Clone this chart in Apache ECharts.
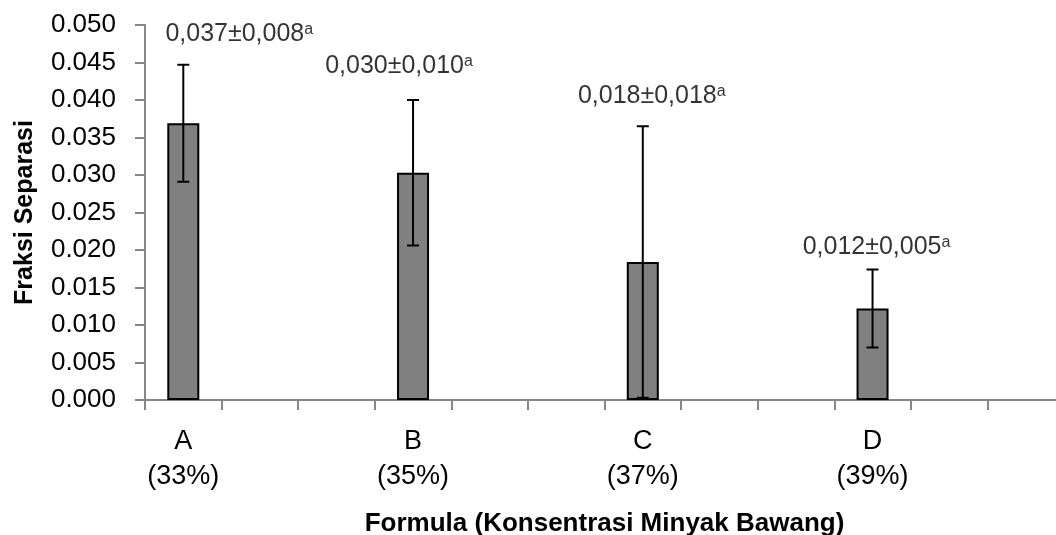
<!DOCTYPE html>
<html>
<head>
<meta charset="utf-8">
<script src="https://cdn.jsdelivr.net/npm/echarts@6/dist/echarts.min.js"></script>
<style>
html,body{margin:0;padding:0;background:#fff;}
#chart{width:1056px;height:535px;}
</style>
</head>
<body>
<div id="chart"></div>
<script>
// ---- data ----
var formulas = ['A', 'B', 'C', 'D'];
var concentrations = ['(33%)', '(35%)', '(37%)', '(39%)'];
var means = [0.0369, 0.0303, 0.0184, 0.0122];
var errors = [0.0078, 0.0097, 0.0181, 0.0052];
var labelTexts = ['0,037±0,008', '0,030±0,010', '0,018±0,018', '0,012±0,005'];
var labelSup = ['a', 'a', 'a', 'a'];
var slotIndex = [0, 3, 6, 9];
var slotCount = 12;

// ---- style-only offsets for free-placed labels ----
var labelOffsets = [[56, -31], [-14, -34], [9, -30], [4, -22]];

var FONT = "'Arial Narrow', 'Liberation Sans Narrow', 'Liberation Sans', Arial, sans-serif";

var categories = [];
for (var i = 0; i < slotCount; i++) categories.push('');
formulas.forEach(function (f, k) { categories[slotIndex[k]] = f + '\n' + concentrations[k]; });

var barData = [];
for (var i = 0; i < slotCount; i++) barData.push(null);
means.forEach(function (m, k) { barData[slotIndex[k]] = m; });

var errData = means.map(function (m, k) { return [slotIndex[k], m - errors[k], m + errors[k]]; });

var labelData = means.map(function (m, k) {
  return {
    value: [slotIndex[k], m + errors[k]],
    label: {
      offset: labelOffsets[k],
      formatter: '{v|' + labelTexts[k] + '}{s|' + labelSup[k] + '}'
    }
  };
});

var chart = echarts.init(document.getElementById('chart'), null, {renderer: 'canvas'});
chart.setOption({
  animation: false,
  backgroundColor: '#fff',
  grid: {left: 145, top: 25, width: 919, height: 375, containLabel: false, outerBoundsMode: 'none'},
  xAxis: {
    type: 'category',
    data: categories,
    name: 'Formula (Konsentrasi Minyak Bawang)',
    nameLocation: 'middle',
    nameGap: 111,
    nameTextStyle: {fontFamily: FONT, fontWeight: 'bold', fontSize: 26, color: '#000'},
    axisLine: {lineStyle: {color: '#868686', width: 2}},
    axisTick: {show: true, interval: 0, length: 10, lineStyle: {color: '#868686', width: 2}},
    axisLabel: {interval: 0, fontFamily: FONT, fontSize: 27, color: '#000', lineHeight: 35, margin: 24},
    splitLine: {show: false}
  },
  yAxis: {
    type: 'value',
    min: 0,
    max: 0.05,
    interval: 0.005,
    name: 'Fraksi Separasi',
    nameLocation: 'middle',
    nameGap: 107,
    nameTextStyle: {fontFamily: FONT, fontWeight: 'bold', fontSize: 25, color: '#000'},
    axisLine: {show: true, lineStyle: {color: '#868686', width: 2}},
    axisTick: {show: true, length: 10, lineStyle: {color: '#868686', width: 2}},
    axisLabel: {
      fontFamily: FONT, fontSize: 26, color: '#000', margin: 29,
      formatter: function (v) { return v.toFixed(3); }
    },
    splitLine: {show: false}
  },
  series: [
    {
      type: 'bar',
      data: barData,
      barWidth: 32,
      itemStyle: {color: '#808080', borderColor: '#000', borderWidth: 2},
      z: 2
    },
    {
      type: 'custom',
      data: errData,
      z: 5,
      renderItem: function (params, api) {
        var x = api.value(0);
        var lo = api.coord([x, api.value(1)]);
        var hi = api.coord([x, api.value(2)]);
        var cap = 6;
        var st = {stroke: '#000', lineWidth: 2};
        return {
          type: 'group',
          children: [
            {type: 'line', shape: {x1: lo[0], y1: lo[1], x2: hi[0], y2: hi[1]}, style: st},
            {type: 'line', shape: {x1: hi[0] - cap, y1: hi[1], x2: hi[0] + cap, y2: hi[1]}, style: st},
            {type: 'line', shape: {x1: lo[0] - cap, y1: lo[1], x2: lo[0] + cap, y2: lo[1]}, style: st}
          ]
        };
      }
    },
    {
      type: 'scatter',
      data: labelData,
      symbolSize: 0,
      z: 6,
      label: {
        show: true,
        position: 'inside',
        color: '#000',
        rich: {
          v: {fontFamily: FONT, fontSize: 25, color: '#000'},
          s: {fontFamily: FONT, fontSize: 16, color: '#000', verticalAlign: 'top', padding: [0, 0, 9, 0]}
        }
      }
    }
  ]
});
</script>
</body>
</html>
